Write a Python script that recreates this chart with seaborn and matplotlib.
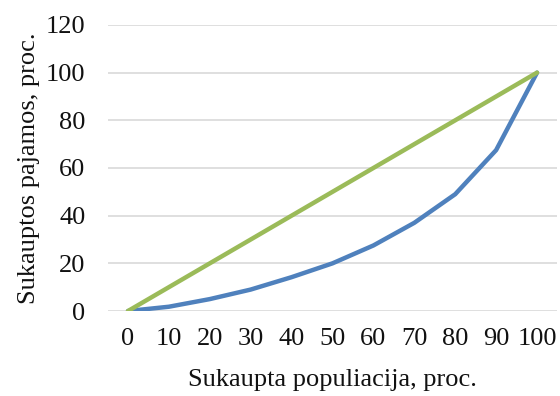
import matplotlib
matplotlib.use("Agg")
import matplotlib.pyplot as plt
import seaborn as sns
import pandas as pd

population = [0, 10, 20, 30, 40, 50, 60, 70, 80, 90, 100]
income = [0, 1.8, 5, 9, 14.2, 20, 27.5, 37, 49, 67.5, 100]
equality = [0, 10, 20, 30, 40, 50, 60, 70, 80, 90, 100]

sns.set_theme(style="white")
plt.rcParams['font.family'] = ['Liberation Serif', 'DejaVu Serif']

df = pd.DataFrame({"x": population, "income": income, "equality": equality})

fig = plt.figure(figsize=(5.6, 3.96), dpi=100)
ax = fig.add_axes([0.192, 0.2146, 0.8035, 0.7224])

sns.lineplot(data=df, x="x", y="income", ax=ax, color="#4F81BD", linewidth=3.2)
sns.lineplot(data=df, x="x", y="equality", ax=ax, color="#9BBB59", linewidth=3.2)

ax.set_xlim(-5, 105)
ax.set_ylim(0, 120)
ax.set_yticks([0, 20, 40, 60, 80, 100, 120])
ax.set_xticks(population)
ax.set_xticklabels([str(v) for v in population])
ax.yaxis.grid(True, color="#D9D9D9", linewidth=1.2)
ax.xaxis.grid(False)
ax.set_axisbelow(True)
for s in ax.spines.values():
    s.set_visible(False)
ax.tick_params(axis='both', length=0, labelsize=19, colors="#111111")
ax.tick_params(axis='x', pad=12)
ax.tick_params(axis='y', pad=16)
ax.set_xlabel("Sukaupta populiacija, proc.", fontsize=19, color="#111111", labelpad=14)
ax.set_ylabel("Sukauptos pajamos, proc.", fontsize=19, color="#111111", labelpad=4)

fig.savefig("out.png", dpi=100)
